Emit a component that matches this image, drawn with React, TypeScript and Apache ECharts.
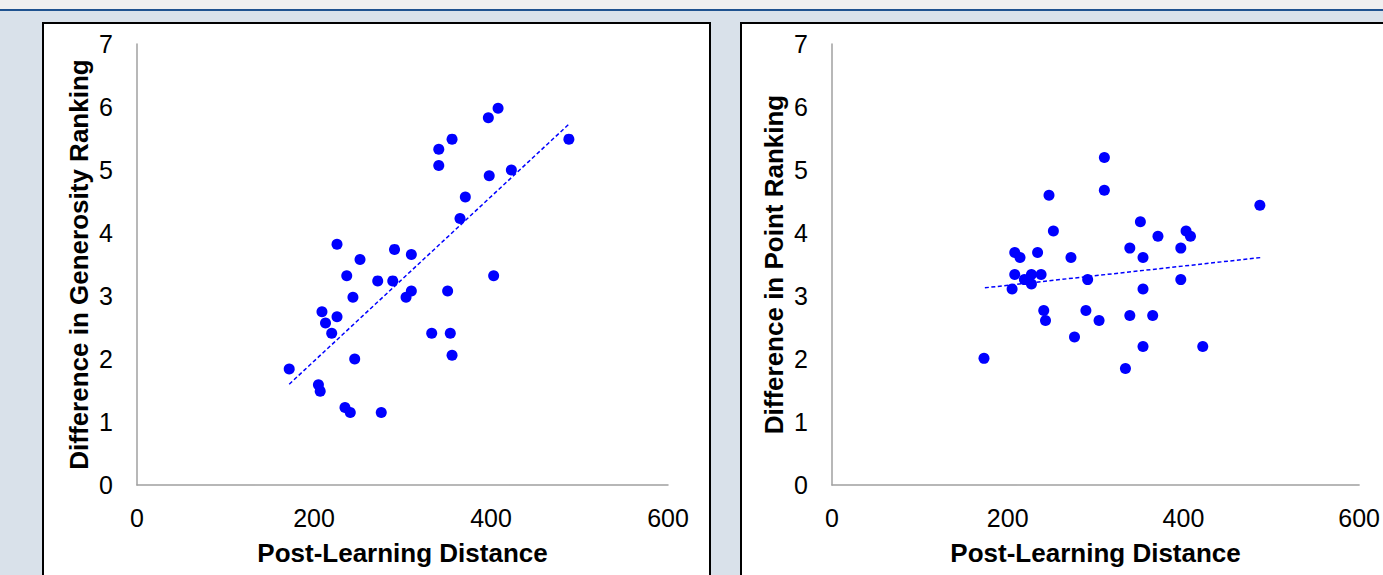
import React, { useEffect, useRef } from "react";
import * as echarts from "echarts";

const xTicks = [0, 200, 400, 600];
const yTicks = [0, 1, 2, 3, 4, 5, 6, 7];

const xTitle = "Post-Learning Distance";
const leftYTitle = "Difference in Generosity Ranking";
const rightYTitle = "Difference in Point Ranking";

const leftX = [172, 205, 207, 209, 213, 220, 226, 226, 235, 241, 237, 244, 246, 252, 272, 276, 289, 291, 304, 310, 310, 333, 341, 341, 351, 354, 356, 356, 365, 371, 397, 398, 403, 408, 423, 488];
const leftY = [1.84, 1.59, 1.49, 2.75, 2.57, 2.41, 2.67, 3.82, 1.23, 1.15, 3.32, 2.98, 2.0, 3.58, 3.24, 1.15, 3.24, 3.74, 2.98, 3.08, 3.66, 2.41, 5.33, 5.07, 3.08, 2.41, 2.06, 5.49, 4.23, 4.57, 5.83, 4.91, 3.32, 5.98, 5.0, 5.49];

const rightX = [173, 205, 208, 214, 208, 219, 227, 227, 234, 238, 241, 243, 247, 252, 272, 276, 289, 291, 304, 310, 310, 334, 339, 339, 351, 354, 354, 354, 365, 371, 397, 397, 403, 408, 422, 487];
const rightY = [2.01, 3.11, 3.69, 3.61, 3.34, 3.26, 3.34, 3.19, 3.69, 3.34, 2.77, 2.61, 4.6, 4.03, 3.61, 2.35, 2.77, 3.26, 2.61, 5.2, 4.68, 1.85, 3.76, 2.69, 4.18, 3.61, 3.11, 2.2, 2.69, 3.95, 3.76, 3.26, 4.03, 3.95, 2.2, 4.44];

const leftTrendX = [172, 489];
const leftTrendY = [1.6, 5.74];
const rightTrendX = [174, 488];
const rightTrendY = [3.13, 3.61];

const FONT = "'Liberation Sans', Arial, sans-serif";

function zip(xs: number[], ys: number[]) {
  return xs.map((x, i) => [x, ys[i]]);
}

export default function App() {
  const ref = useRef<HTMLDivElement>(null);
  useEffect(() => {
    if (!ref.current) return;
    const chart = echarts.init(ref.current, undefined, { renderer: "svg" });
    const axisLine = { show: true, lineStyle: { color: "#a0a0a0", width: 1.5 } };
    const labelStyle = { color: "#000", fontSize: 25, fontFamily: FONT };
    const nameStyle = { color: "#000", fontSize: 26, fontWeight: "bold" as const, fontFamily: FONT };
    const mkX = (gridIndex: number) => ({
      type: "value" as const,
      gridIndex,
      min: xTicks[0],
      max: xTicks[xTicks.length - 1],
      interval: xTicks[1] - xTicks[0],
      axisLine,
      axisTick: { show: false },
      splitLine: { show: false },
      axisLabel: { ...labelStyle, margin: 20, showMaxLabel: true },
      name: xTitle,
      nameLocation: "middle" as const,
      nameGap: 55,
      nameTextStyle: nameStyle,
    });
    const mkY = (gridIndex: number, name: string) => ({
      type: "value" as const,
      gridIndex,
      min: yTicks[0],
      max: yTicks[yTicks.length - 1],
      interval: yTicks[1] - yTicks[0],
      axisLine,
      axisTick: { show: false },
      splitLine: { show: false },
      axisLabel: { ...labelStyle, margin: 24 },
      name,
      nameLocation: "middle" as const,
      nameGap: 45,
      nameTextStyle: nameStyle,
    });
    const scatterStyle = {
      type: "scatter" as const,
      symbol: "circle",
      symbolSize: 11,
      itemStyle: { color: "#0000ff", opacity: 1 },
    };
    const trendStyle = {
      type: "line" as const,
      symbol: "none",
      lineStyle: { color: "#0000ff", width: 1.5, type: [4, 2.5] as any },
    };
    chart.setOption({
      animation: false,
      backgroundColor: "#d9e1ea",
      graphic: [
        { type: "rect", z: -5, shape: { x: 0, y: 0, width: 1383, height: 10 }, style: { fill: "#f0f0f0" } },
        { type: "rect", z: -5, shape: { x: 0, y: 9, width: 1383, height: 2 }, style: { fill: "#1f528f" } },
        { type: "rect", z: -5, shape: { x: 43, y: 23, width: 667, height: 600 }, style: { fill: "#ffffff", stroke: "#000", lineWidth: 2 } },
        { type: "rect", z: -5, shape: { x: 741, y: 23, width: 700, height: 600 }, style: { fill: "#ffffff", stroke: "#000", lineWidth: 2 } },
      ],
      grid: [
        { left: 137, top: 44, width: 531, height: 441 },
        { left: 832, top: 44, width: 535, height: 441 },
      ],
      xAxis: [mkX(0), mkX(1)],
      yAxis: [mkY(0, leftYTitle), mkY(1, rightYTitle)],
      series: [
        { ...scatterStyle, xAxisIndex: 0, yAxisIndex: 0, data: zip(leftX, leftY) },
        { ...trendStyle, xAxisIndex: 0, yAxisIndex: 0, data: zip(leftTrendX, leftTrendY) },
        { ...scatterStyle, xAxisIndex: 1, yAxisIndex: 1, data: zip(rightX, rightY) },
        { ...trendStyle, xAxisIndex: 1, yAxisIndex: 1, data: zip(rightTrendX, rightTrendY) },
      ],
    });
    return () => chart.dispose();
  }, []);
  return (
    <div
      ref={ref}
      style={{ position: "fixed", left: 0, top: 0, width: 1383, height: 575 }}
    />
  );
}
